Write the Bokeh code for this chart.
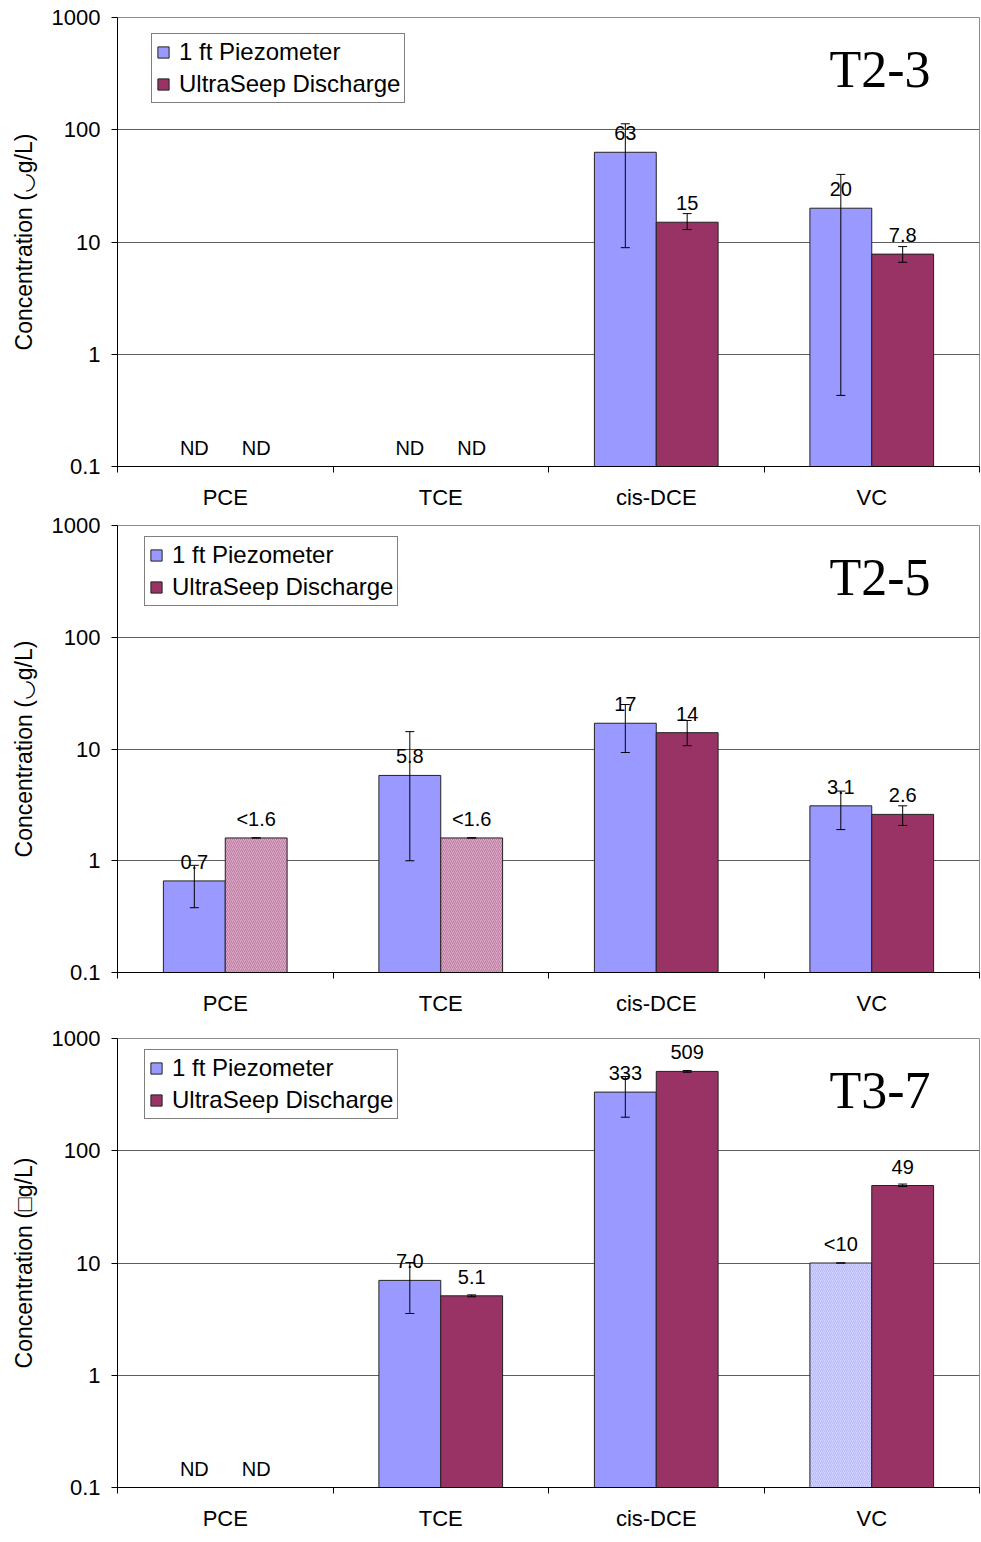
import math
from bokeh.plotting import figure
from bokeh.layouts import column
from bokeh.models import (ColumnDataSource, FixedTicker, CustomJSTickFormatter, Whisker, TeeHead,
                          Legend, LegendItem, Label, LabelSet, Range1d)
from bokeh.core.properties import value
from bokeh.embed import file_html
from bokeh.resources import INLINE

NaN = float("nan")

categories = ["PCE", "TCE", "cis-DCE", "VC"]
panel_titles = ["T2-3", "T2-5", "T3-7"]
y_labels = ["Concentration (\u25e1g/L)", "Concentration (\u25e1g/L)", "Concentration (\u25a1g/L)"]
y_ticks = [0.1, 1, 10, 100, 1000]
series_names = ["1 ft Piezometer", "UltraSeep Discharge"]

# ---- T2-3 ----
t23_piezo = [NaN, NaN, 63, 20]
t23_piezo_text = ["ND", "ND", "63", "20"]
t23_piezo_lo = [NaN, NaN, 8.9, 0.43]
t23_piezo_hi = [NaN, NaN, 113, 40]
t23_piezo_limit = [False, False, False, False]
t23_seep = [NaN, NaN, 15, 7.8]
t23_seep_text = ["ND", "ND", "15", "7.8"]
t23_seep_lo = [NaN, NaN, 12.9, 6.6]
t23_seep_hi = [NaN, NaN, 17.9, 9.1]
t23_seep_limit = [False, False, False, False]

# ---- T2-5 ----
t25_piezo = [0.66, 5.8, 17, 3.1]
t25_piezo_text = ["0.7", "5.8", "17", "3.1"]
t25_piezo_lo = [0.38, 1.0, 9.3, 1.9]
t25_piezo_hi = [0.91, 14.3, 25, 4.2]
t25_piezo_limit = [False, False, False, False]
t25_seep = [1.6, 1.6, 14, 2.6]
t25_seep_text = ["<1.6", "<1.6", "14", "2.6"]
t25_seep_lo = [1.6, 1.6, 10.7, 2.07]
t25_seep_hi = [1.6, 1.6, 18, 3.1]
t25_seep_limit = [True, True, False, False]

# ---- T3-7 ----
t37_piezo = [NaN, 7.0, 333, 10]
t37_piezo_text = ["ND", "7.0", "333", "<10"]
t37_piezo_lo = [NaN, 3.55, 199, 10]
t37_piezo_hi = [NaN, 10.1, 458, 10]
t37_piezo_limit = [False, False, False, True]
t37_seep = [NaN, 5.1, 509, 49]
t37_seep_text = ["ND", "5.1", "509", "49"]
t37_seep_lo = [NaN, 5.0, 500, 48]
t37_seep_hi = [NaN, 5.2, 518, 50.5]
t37_seep_limit = [False, False, False, False]

panels = [
    [(t23_piezo, t23_piezo_text, t23_piezo_lo, t23_piezo_hi, t23_piezo_limit),
     (t23_seep, t23_seep_text, t23_seep_lo, t23_seep_hi, t23_seep_limit)],
    [(t25_piezo, t25_piezo_text, t25_piezo_lo, t25_piezo_hi, t25_piezo_limit),
     (t25_seep, t25_seep_text, t25_seep_lo, t25_seep_hi, t25_seep_limit)],
    [(t37_piezo, t37_piezo_text, t37_piezo_lo, t37_piezo_hi, t37_piezo_limit),
     (t37_seep, t37_seep_text, t37_seep_lo, t37_seep_hi, t37_seep_limit)],
]

SOLID = ["#9999FF", "#993366"]
HATCH_FILL = ["#d4d4ff", "#dba8c6"]
HATCH_LINE = ["#b5b5ff", "#bd7ba2"]
BAR_W = 0.287
SANS = "Liberation Sans"

fig_tops = [17, 13, 18]
fig_frames = [449, 447, 449]
fig_bottoms = [46, 48, 46]
legend_pos = [(34, 363), (27, 366), (27, 368)]


def isnan(v):
    return v is None or (isinstance(v, float) and math.isnan(v))


def make_panel(k):
    h = fig_tops[k] + fig_frames[k] + fig_bottoms[k]
    p = figure(width=980, height=h, x_range=Range1d(0, 4), y_range=Range1d(0.1, 1000),
               y_axis_type="log", output_backend="svg", toolbar_location=None,
               min_border_left=117, min_border_right=1, min_border_top=fig_tops[k],
               min_border_bottom=fig_bottoms[k])
    p.background_fill_color = "white"
    p.border_fill_color = "white"
    p.outline_line_color = "#8c8c8c"
    p.outline_line_width = 1

    # y axis
    ya = p.yaxis[0]
    ya.ticker = FixedTicker(ticks=y_ticks)
    ya.formatter = CustomJSTickFormatter(code="return tick < 1 ? tick.toFixed(1) : tick.toFixed(0);")
    ya.axis_line_color = "black"
    ya.major_tick_line_color = "black"
    ya.major_tick_out = 6
    ya.major_tick_in = 0
    ya.minor_tick_line_color = None
    ya.major_label_text_font = SANS
    ya.major_label_text_font_size = "22px"
    ya.major_label_text_color = "black"
    ya.major_label_standoff = 11
    ya.axis_label = y_labels[k]
    ya.axis_label_text_font = SANS
    ya.axis_label_text_font_size = "23px"
    ya.axis_label_text_font_style = "normal"
    ya.axis_label_text_color = "black"
    ya.axis_label_standoff = 12

    # x axis
    xa = p.xaxis[0]
    xa.ticker = FixedTicker(ticks=[i + 0.5 for i in range(len(categories))],
                            minor_ticks=list(range(len(categories) + 1)))
    xa.formatter = CustomJSTickFormatter(args=dict(cats=categories),
                                         code="const i = Math.floor(tick); return (i >= 0 && i < cats.length) ? cats[i] : '';")
    xa.axis_line_color = "black"
    xa.major_tick_line_color = None
    xa.minor_tick_line_color = "black"
    xa.minor_tick_out = 6
    xa.minor_tick_in = 0
    xa.major_label_text_font = SANS
    xa.major_label_text_font_size = "22px"
    xa.major_label_text_color = "black"
    xa.major_label_standoff = 12

    p.xgrid.grid_line_color = None
    p.ygrid.grid_line_color = "#5e5e5e"
    p.ygrid.grid_line_width = 1

    legend_items = []
    for s, (vals, texts, los, his, limits) in enumerate(panels[k]):
        sign = -1 if s == 0 else 1
        xs = [i + 0.5 + sign * BAR_W / 2 for i in range(len(categories))]

        solid = dict(x=[], top=[])
        hatched = dict(x=[], top=[])
        whisk = dict(x=[], lo=[], hi=[])
        lab = dict(x=[], y=[], t=[])
        for i in range(len(categories)):
            v = vals[i]
            if not isnan(v):
                tgt = hatched if limits[i] else solid
                tgt["x"].append(xs[i])
                tgt["top"].append(v)
            if not isnan(los[i]):
                whisk["x"].append(xs[i])
                whisk["lo"].append(los[i])
                whisk["hi"].append(his[i])
            lab["x"].append(xs[i])
            lab["y"].append(0.1 if isnan(v) else v)
            lab["t"].append(texts[i])

        r = p.vbar(x="x", top="top", bottom=0.1, width=BAR_W, source=ColumnDataSource(solid),
                   fill_color=SOLID[s], line_color="#222222", line_width=1)
        if hatched["x"]:
            p.vbar(x="x", top="top", bottom=0.1, width=BAR_W, source=ColumnDataSource(hatched),
                   fill_color=HATCH_FILL[s], line_color="#222222", line_width=1,
                   hatch_pattern="/", hatch_color=HATCH_LINE[s], hatch_scale=4, hatch_weight=1)
        legend_items.append(LegendItem(label=series_names[s], renderers=[r]))

        if whisk["x"]:
            w = Whisker(source=ColumnDataSource(whisk), base="x", lower="lo", upper="hi",
                        line_color="black", line_width=1, level="annotation",
                        upper_head=TeeHead(size=9, line_color="black", line_width=1),
                        lower_head=TeeHead(size=9, line_color="black", line_width=1))
            p.add_layout(w)

        ls = LabelSet(x="x", y="y", text="t", source=ColumnDataSource(lab),
                      text_align="center", text_baseline="alphabetic", y_offset=12,
                      text_font=value(SANS), text_font_size=value("20px"), text_color="black",
                      level="annotation")
        p.add_layout(ls)

    legend = Legend(items=legend_items, location=legend_pos[k],
                    border_line_color="black", border_line_width=1,
                    background_fill_color="white", background_fill_alpha=1,
                    label_text_font=SANS, label_text_font_size="24px", label_text_color="black",
                    glyph_width=14, glyph_height=14, label_height=25, label_standoff=9,
                    spacing=4, padding=4, margin=0)
    p.add_layout(legend)

    title = Label(x=3.773, y=233, y_offset=19, text=panel_titles[k], text_align="right",
                  text_baseline="alphabetic", text_font="Liberation Serif",
                  text_font_size="52px", text_color="black")
    p.add_layout(title)
    return p


figs = [make_panel(k) for k in range(3)]
layout = column(*figs, spacing=0)

open("out.html", "w").write(file_html(layout, INLINE))
